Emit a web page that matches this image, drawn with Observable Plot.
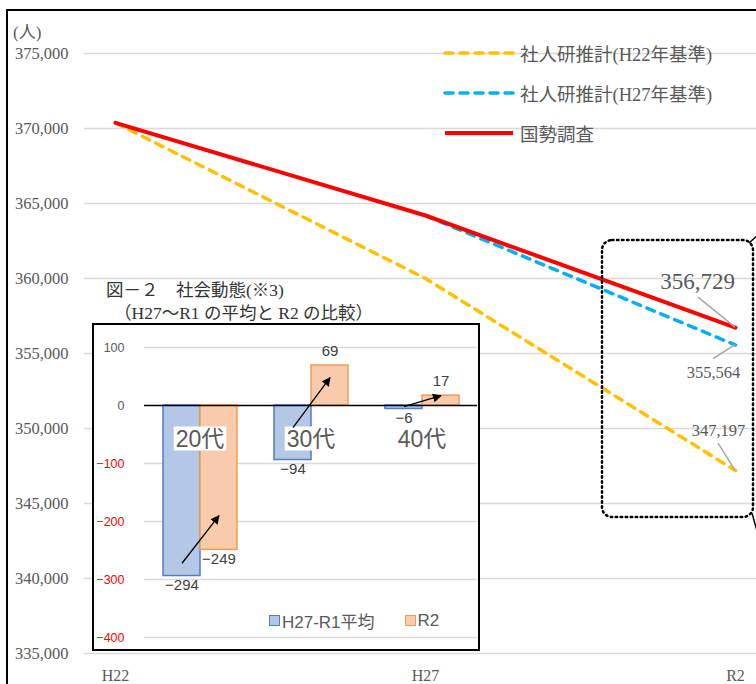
<!DOCTYPE html>
<html><head><meta charset="utf-8">
<script src="https://cdn.jsdelivr.net/npm/d3@7"></script>
<script src="https://cdn.jsdelivr.net/npm/@observablehq/plot@0.6"></script>
<style>
html,body{margin:0;padding:0;width:756px;height:684px;overflow:hidden;background:#fff;}
#wrap{position:relative;width:756px;height:684px;overflow:hidden;}
.abs{position:absolute;white-space:nowrap;}
.serif{font-family:"Liberation Serif","Noto Sans CJK JP",serif;}
.sans{font-family:"Liberation Sans","Noto Sans CJK JP",sans-serif;}
</style></head><body><div id="wrap"></div>
<script>
// ---------- data ----------
const years = ["H22", "H27", "R2"];
const seriesNames = ["社人研推計(H22年基準)", "社人研推計(H27年基準)", "国勢調査"];
const ipssH22 = [370380, 360000, 347197];
const ipssH27 = [null, 364200, 355564];
const census = [370380, 364200, 356729];
const yTicks = [335000, 340000, 345000, 350000, 355000, 360000, 365000, 370000, 375000];

const ages = ["20代", "30代", "40代"];
const barSeries = ["H27-R1平均", "R2"];
const avgVals = [-294, -94, -6];
const r2Vals = [-249, 69, 17];
const insetTicks = [-400, -300, -200, -100, 0, 100];
// arrows (annotation): from value on average bar to value on R2 bar
const arrowFrom = [-272, -38, -2];
const arrowTo = [-190, 48, 17];

const colors = ["#FFC000", "#00B0F0", "#FF0000"];
const wrap = document.getElementById("wrap");

// ---------- outer frame ----------
const frame = document.createElement("div");
frame.className = "abs";
Object.assign(frame.style, {left: "6px", top: "9px", width: "900px", height: "900px", border: "2px solid #000"});
wrap.appendChild(frame);

// ---------- main chart ----------
const toPts = (arr) => years.map((x, i) => ({x, y: arr[i]})).filter(d => d.y != null);
const fmt = d3.format(",");
const main = Plot.plot({
  width: 756, height: 684,
  marginLeft: 84, marginRight: 0, marginTop: 53, marginBottom: 31,
  style: {background: "transparent", color: "#595959", fontFamily: "'Liberation Serif', serif", overflow: "visible"},
  x: {type: "point", domain: years, range: [115, 735], padding: 0},
  y: {domain: [335000, 375000], range: [653, 53]},
  marks: [
    Plot.ruleY(yTicks, {stroke: "#d9d9d9", strokeWidth: 1.5}),
    Plot.axisY({ticks: yTicks, tickSize: 0, tickPadding: 16, tickFormat: fmt, fontSize: 16.5, label: null}),
    Plot.axisX({tickSize: 0, tickPadding: 16, fontSize: 16, label: null}),
    Plot.line(toPts(ipssH22), {x: "x", y: "y", stroke: colors[0], strokeWidth: 3.5, strokeDasharray: "8,7", strokeLinecap: "round"}),
    Plot.line(toPts(ipssH27), {x: "x", y: "y", stroke: colors[1], strokeWidth: 3.5, strokeDasharray: "8,7", strokeLinecap: "round"}),
    Plot.line(toPts(census), {x: "x", y: "y", stroke: colors[2], strokeWidth: 4}),
    Plot.text([{x: "R2", y: census[2]}], {x: "x", y: "y", text: d => fmt(d.y), dx: -38, dy: -46, fontSize: 23, fill: "#595959"}),
    Plot.text([{x: "R2", y: ipssH27[2]}], {x: "x", y: "y", text: d => fmt(d.y), dx: -22, dy: 28, fontSize: 16.5, fill: "#595959"}),
    Plot.text([{x: "R2", y: ipssH22[2]}], {x: "x", y: "y", text: d => fmt(d.y), dx: -17, dy: -40, fontSize: 16.5, fill: "#595959"})
  ]
});
main.style.position = "absolute"; main.style.left = "0px"; main.style.top = "0px";
wrap.appendChild(main);

// leader lines and dotted callout box using the chart's scales
{
  const xs = main.scale("x"), ys = main.scale("y");
  const svg = d3.select(main);
  const xr = xs.apply("R2");
  const leaders = [[census[2], -37, -30], [ipssH27[2], -22, 14], [ipssH22[2], -17, -27]];
  for (const [v, lx, ly] of leaders) {
    const py = ys.apply(v);
    svg.append("line").attr("x1", xr).attr("y1", py).attr("x2", xr + lx).attr("y2", py + ly)
      .attr("stroke", "#a6a6a6").attr("stroke-width", 1.5);
  }
  const top = ys.apply(census[2]) - 87, bot = ys.apply(ipssH22[2]) + 47;
  svg.append("rect").attr("x", xr - 133).attr("y", top).attr("width", 151).attr("height", bot - top)
    .attr("rx", 10).attr("fill", "none").attr("stroke", "#000").attr("stroke-width", 2.5)
    .attr("stroke-dasharray", "1.5,3.5").attr("stroke-linecap", "round");
  svg.append("line").attr("x1", xr + 14).attr("y1", top + 3).attr("x2", xr + 24).attr("y2", top - 6).attr("stroke", "#000").attr("stroke-width", 1.5);
  svg.append("line").attr("x1", xr + 17).attr("y1", bot - 4).attr("x2", xr + 22).attr("y2", bot + 14).attr("stroke", "#000").attr("stroke-width", 1.5);
}

// unit label
const unit = document.createElement("div");
unit.className = "abs serif";
Object.assign(unit.style, {left: "13px", top: "18px", fontSize: "17px", color: "#595959"});
unit.textContent = "(人)";
wrap.appendChild(unit);

// main legend
seriesNames.forEach((name, i) => {
  const row = document.createElement("div");
  row.className = "abs serif";
  Object.assign(row.style, {left: "443px", top: (53 + 40 * i - 13) + "px", height: "26px", display: "flex", alignItems: "center", fontSize: "18.5px", color: "#595959"});
  const dash = i < 2 ? 'stroke-dasharray="8,7" stroke-linecap="round"' : "";
  row.innerHTML = `<svg width="72" height="10" style="margin-right:5px"><line x1="2" y1="5" x2="70" y2="5" stroke="${colors[i]}" stroke-width="${i < 2 ? 3.5 : 4}" ${dash}/></svg><span>${name}</span>`;
  wrap.appendChild(row);
});

// ---------- inset title ----------
const t1 = document.createElement("div");
t1.className = "abs serif";
Object.assign(t1.style, {left: "106px", top: "279px", fontSize: "17.5px", color: "#333", lineHeight: "23px"});
t1.innerHTML = "図－２　社会動態(※3)<br><span style='margin-left:8px'>（H27～R1 の平均と R2 の比較）</span>";
wrap.appendChild(t1);

// ---------- inset chart ----------
const box = document.createElement("div");
box.className = "abs";
Object.assign(box.style, {left: "92px", top: "323px", width: "384px", height: "324px", border: "2px solid #000", background: "#fff"});
wrap.appendChild(box);

const barData = ages.flatMap((a, i) => [
  {age: a, s: barSeries[0], v: avgVals[i]},
  {age: a, s: barSeries[1], v: r2Vals[i]}
]);
const arrowData = ages.map((a, i) => ({age: a, y1: arrowFrom[i], y2: arrowTo[i]}));
const barFill = ["#B4C7E7", "#F8CBAD"];
const barStroke = ["#4F7EC2", "#F19C5A"];
const minus = v => (v < 0 ? "−" + Math.abs(v) : String(v));

const inset = Plot.plot({
  width: 384, height: 324,
  marginLeft: 49, marginRight: 0, marginTop: 22, marginBottom: 12,
  style: {background: "transparent", color: "#595959", fontFamily: "'Liberation Sans', 'Noto Sans CJK JP', sans-serif", overflow: "visible"},
  fx: {domain: ages, padding: 0, axis: null},
  x: {domain: barSeries, paddingInner: 0, paddingOuter: 0.47, axis: null},
  y: {domain: [-400, 100], axis: null},
  marks: [
    Plot.ruleY(insetTicks.filter(t => t !== 0), {stroke: "#d9d9d9", strokeWidth: 1.5}),
    Plot.axisY({ticks: insetTicks, tickSize: 0, tickPadding: 20, tickFormat: minus, fontSize: 12.5, label: null}),
    Plot.barY(barData, {fx: "age", x: "s", y: "v", fill: d => barFill[barSeries.indexOf(d.s)], stroke: d => barStroke[barSeries.indexOf(d.s)], strokeWidth: 1.5}),
    Plot.ruleY([0], {stroke: "#000", strokeWidth: 1.5}),
    Plot.text(barData.filter(d => d.v < 0), {fx: "age", x: "s", y: "v", text: d => minus(d.v), dy: 9, fontSize: 15, fill: "#404040"}),
    Plot.text(barData.filter(d => d.v >= 0), {fx: "age", x: "s", y: "v", text: d => minus(d.v), dy: -14, fontSize: 15, fill: "#404040"}),
    Plot.text(ages, {fx: d => d, y: () => -58, text: d => d, fontSize: 23, fill: "#595959", className: "agelab"}),
    Plot.link(arrowData, {fx: "age", x1: () => barSeries[0], x2: () => barSeries[1], y1: "y1", y2: "y2", stroke: "#000", strokeWidth: 1.3, className: "arr"})
  ]
});
inset.style.position = "absolute"; inset.style.left = "0px"; inset.style.top = "0px";
box.appendChild(inset);

// color negative tick labels red
d3.select(inset).selectAll('g[aria-label="y-axis tick label"] text')
  .attr("fill", function () { return this.textContent.startsWith("−") ? "#FF0000" : "#595959"; });
// white boxes behind age labels
d3.select(inset).selectAll("g.agelab text").each(function () {
  const bb = this.getBBox();
  const g = this.parentNode;
  d3.select(g).insert("rect", () => this).attr("x", bb.x - 2).attr("y", bb.y + 1).attr("width", bb.width + 4).attr("height", bb.height - 2).attr("fill", "#fff").attr("transform", this.getAttribute("transform"));
});
// filled arrowheads
{
  const svg = d3.select(inset);
  svg.append("defs").append("marker").attr("id", "ah").attr("viewBox", "0 0 10 10").attr("refX", 9).attr("refY", 5)
    .attr("markerWidth", 9).attr("markerHeight", 9).attr("orient", "auto").attr("markerUnits", "userSpaceOnUse")
    .append("path").attr("d", "M0,0L10,5L0,10z").attr("fill", "#000");
  svg.selectAll("g.arr path, g.arr line").attr("marker-end", "url(#ah)");
}

// inset legend
const leg = document.createElement("div");
leg.className = "abs sans";
Object.assign(leg.style, {left: "269px", top: "608px", display: "flex", alignItems: "center", fontSize: "17px", color: "#595959"});
leg.innerHTML = barSeries.map((s, i) =>
  `<span style="display:inline-block;width:9px;height:9px;background:${barFill[i]};border:1.5px solid ${barStroke[i]};margin-right:2px"></span><span style="margin-right:${i === 0 ? 30 : 0}px">${s}</span>`).join("");
wrap.appendChild(leg);
</script>
</body></html>
